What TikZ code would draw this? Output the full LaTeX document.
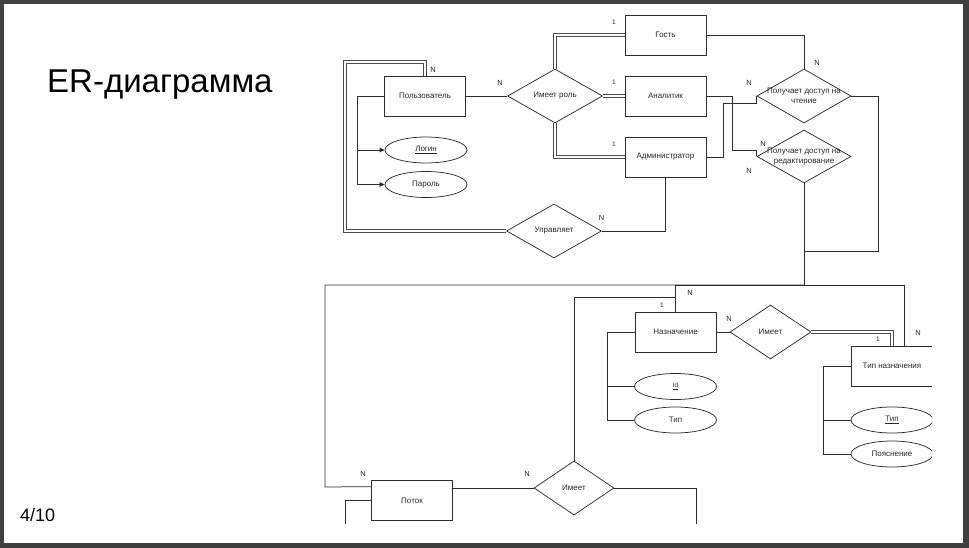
\documentclass[tikz,border=0pt]{standalone}
\usepackage{fontspec}
\setmainfont{Liberation Sans}
\usetikzlibrary{shapes.geometric,arrows.meta,calc}
\definecolor{framec}{RGB}{64,64,64}
\definecolor{ln}{RGB}{45,45,45}
\definecolor{tx}{RGB}{40,40,40}
\begin{document}
\begin{tikzpicture}[x=1pt,y=-1pt,
  ent/.style={draw=ln, line width=0.75pt, minimum width=81pt, minimum height=40pt, inner sep=0pt, font=\fontsize{8}{9.5}\selectfont, text=tx},
  rel/.style={draw=ln, line width=0.75pt, shape=diamond, inner sep=0pt, minimum width=95pt, minimum height=54pt},
  attr/.style={draw=ln, line width=0.75pt, ellipse, minimum width=82pt, minimum height=26pt, inner sep=0pt, font=\fontsize{8}{9.5}\selectfont, text=tx},
  lbl/.style={font=\fontsize{8}{9.5}\selectfont, text=tx, align=center, inner sep=0pt},
  card/.style={font=\fontsize{7.5}{8}\selectfont, text=tx, inner sep=0pt},
  one/.style={font=\fontsize{6.5}{7}\selectfont, text=tx, inner sep=0pt},
  con/.style={draw=ln, line width=0.75pt},
  dbl/.style={draw=ln!85, line width=0.9pt, double=white, double distance=2pt},
  arr/.style={con, -{Triangle[length=5pt,width=4.5pt]}},
]
\useasboundingbox (0,0) rectangle (969,548);
\fill[framec] (0,0) rectangle (969,548);
\fill[white] (4,4) rectangle (963,543);

\node[anchor=base west, font=\fontsize{33}{40}\selectfont, inner sep=0pt] (title) at (47,93) {ER-диаграмма};
\node[anchor=base west, font=\fontsize{18}{20}\selectfont, inner sep=0pt] (page) at (20,521) {4/10};

\begin{scope}
\clip (0,0) rectangle (932,523.5);
% entities
\node[ent] (user) at (425,96) {Пользователь};
\node[ent] (guest) at (665.5,35) {Гость};
\node[ent] (analyst) at (665.5,96) {Аналитик};
\node[ent] (admin) at (665.5,157) {Администратор};
\node[ent] (nazn) at (675.5,332) {Назначение};
\node[ent, minimum width=82pt] (tn) at (892,366) {Тип назначения};
\node[ent] (potok) at (412,500.5) {Поток};
% relations
\node[rel, label={[lbl]center:Имеет роль}] (r1) at (555,96) {};
\node[rel, label={[lbl]center:Управляет}] (manage) at (554,231) {};
\node[rel, minimum width=94pt, label={[lbl]center:Получает доступ на\\чтение}] (read) at (804,96) {};
\node[rel, minimum width=94pt, minimum height=53pt, label={[lbl]center:Получает доступ на\\редактирование}] (edit) at (804,156.5) {};
\node[rel, minimum width=81pt, label={[lbl]center:Имеет}] (has3) at (770.5,332) {};
\node[rel, minimum width=80pt, label={[lbl]center:Имеет}] (has2) at (574,488) {};
% attributes
\node[attr] (login) at (426,150) {\underline{Логин}};
\node[attr] (pass) at (426,184.5) {Пароль};
\node[attr, font=\fontsize{6.5}{7}\selectfont] (id) at (675.5,386.5) {\underline{Id}};
\node[attr] (tip1) at (675.5,420) {Тип};
\node[attr] (tip2) at (892,420) {\underline{Тип}};
\node[attr] (poyas) at (892,454) {Пояснение};

% connectors
\draw[con] (user.east) -- (r1.west);
\draw[dbl] (r1.north) |- (guest.west);
\draw[dbl] (r1.east) -- (analyst.west);
\draw[dbl] (r1.south) |- (admin.west);
\draw[con] (user.west) -- ++(-27,0) coordinate (ua);
\draw[arr] (ua) |- (login.west);
\draw[arr] (ua) |- (pass.west);
\draw[dbl] (manage.west) -| (345,62) -| (user.north);
\draw[con] (manage.east) -| (admin.south);
\draw[con] (guest.east) -| (read.north);
\draw[con] (analyst.east) -| (732,150) -| (edit.west);
\draw[con] (admin.east) -| (723,103) -| (read.west);
\coordinate (trunk) at (804,285);
\draw[con] (edit.south) -- (trunk);
\draw[con] (read.east) -| (878,251) -| (trunk);
\draw[con] (trunk) -| (325,487) -- ($(potok.north west)+(0,6.5)$);
\draw[con] (trunk) -| (nazn.north);
\draw[con] (trunk) -| ($(tn.north west)+(54,0)$);
\draw[con] (potok.east |- has2.west) -- (has2.west);
\draw[con] (has2.north) |- ($(nazn.north)+(0,-14)$) -- (nazn.north);
\coordinate (cutA) at (696,530);
\coordinate (cutB) at (345,530);
\draw[con] (has2.east) -| (cutA);
\draw[con] (potok.west) -| (cutB);
\draw[con] (nazn.east) -- (has3.west);
\draw[dbl] (has3.east) -| ($(tn.north west)+(41,0)$);
\draw[con] (nazn.west) -- ++(-27,0) coordinate (na);
\draw[con] (na) |- (id.west);
\draw[con] (na) |- (tip1.west);
\draw[con] (tn.west) -- ++(-27,0) coordinate (ta);
\draw[con] (ta) |- (tip2.west);
\draw[con] (ta) |- (poyas.west);

% cardinalities
\node[card] (c1) at (433,70) {N};
\node[card] (c2) at (500,83) {N};
\node[one] (c3) at (614,22.5) {1};
\node[one] (c4) at (614,82) {1};
\node[one] (c5) at (614,144) {1};
\node[card] (c6) at (601.5,218) {N};
\node[card] (c7) at (817,63) {N};
\node[card] (c8) at (749,83) {N};
\node[card] (c9) at (763,144) {N};
\node[card] (c10) at (749,171) {N};
\node[card] (c11) at (690,293) {N};
\node[one] (c12) at (662,305) {1};
\node[card] (c13) at (729,319) {N};
\node[card] (c14) at (918,333) {N};
\node[one] (c15) at (878,339.5) {1};
\node[card] (c16) at (363,474) {N};
\node[card] (c17) at (527,474) {N};
\end{scope}
\end{tikzpicture}
\end{document}
